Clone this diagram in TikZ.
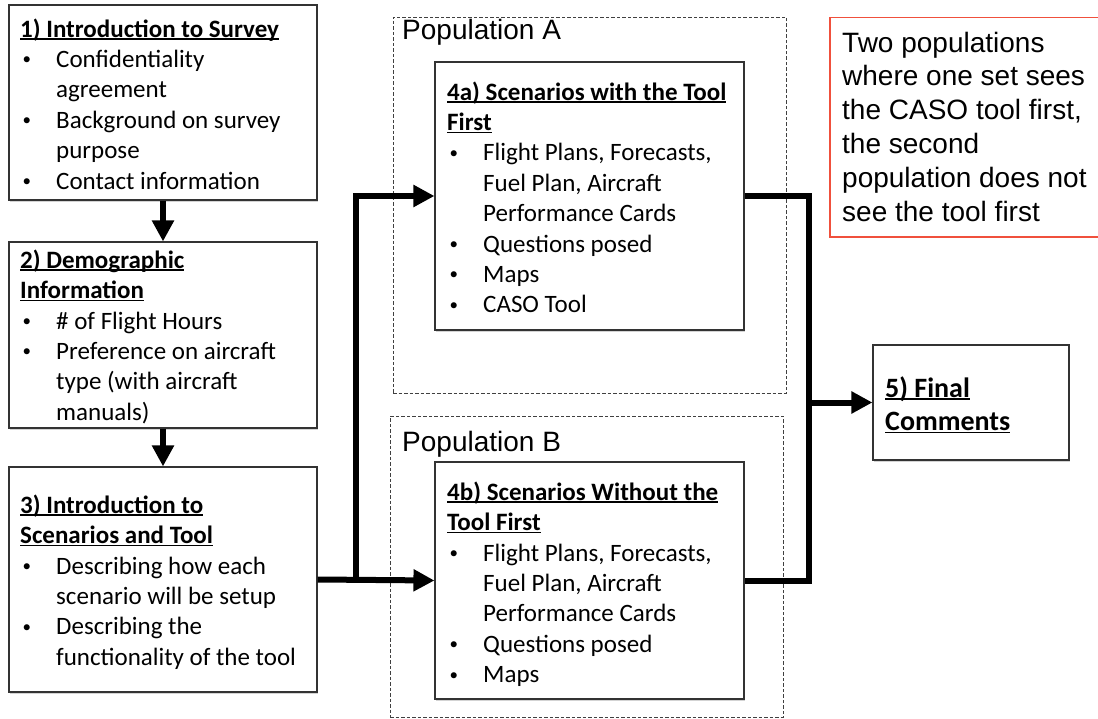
\documentclass[tikz,border=0pt]{standalone}
\usepackage{fontspec}
\setmainfont{Carlito}
\newfontfamily\notefont{Liberation Sans}
\usetikzlibrary{arrows.meta,shadows}
\definecolor{notered}{RGB}{240,80,60}
% bold underlined heading line
\newcommand\hdr[1]{\setbox0=\hbox{\bfseries#1}\rlap{\rule[-2.6pt]{\wd0}{1.5pt}}\box0}
% bullet item and continuation indent
\newcommand\itm{\makebox[36pt][l]{\hspace*{2.5pt}\raisebox{2.6pt}{\fontsize{17}{17}\selectfont\textbullet}}}
\newcommand\contline{\hspace*{36pt}}
\begin{document}
\begin{tikzpicture}[x=1pt,y=-1pt,
  stage/.style={draw=black!80, line width=1.1pt, fill=white, inner sep=0pt,
    drop shadow={shadow xshift=1.2pt,shadow yshift=-1.6pt,opacity=0.35}},
  body/.style={anchor=north west, inner sep=0pt, align=left,
    font=\fontsize{25}{30.4}\selectfont},
  group/.style={draw=black!75, line width=0.8pt, dash pattern=on 3.5pt off 2pt, inner sep=0pt},
  grouplabel/.style={anchor=base west, inner sep=0pt, font=\notefont\fontsize{28}{33.8}\selectfont},
  flow/.style={line width=6pt, black, line join=miter},
  head/.style={-{Triangle[length=21pt,width=21pt]}},
]
\useasboundingbox (0,0) rectangle (1098,719);

% population groups
\node[group, minimum width=393pt, minimum height=376pt] (popA) at (589.5,205) {};
\node[group, minimum width=393pt, minimum height=301pt] (popB) at (586.5,566.5) {};
\node[grouplabel] (labA) at (402,40) {Population A};
\node[grouplabel] (labB) at (402,451) {Population B};

% stage boxes
\node[stage, minimum width=308pt, minimum height=195pt] (b1) at (163,102.5) {};
\node[stage, minimum width=308pt, minimum height=186pt] (b2) at (163,335) {};
\node[stage, minimum width=308pt, minimum height=225pt] (b3) at (163,579.5) {};
\node[stage, minimum width=309pt, minimum height=268pt] (b4a) at (589.5,196) {};
\node[stage, minimum width=309pt, minimum height=237pt] (b4b) at (589.5,580.5) {};
\node[stage, minimum width=196pt, minimum height=115pt] (b5) at (971,402.5) {};

% stage texts
\node[body] (t1) at (20,15.72) {\strut\hdr{1) Introduction to Survey}\\
  \itm Confidentiality\\
  \contline agreement\\
  \itm Background on survey\\
  \contline purpose\\
  \itm Contact information};
\node[body] (t2) at (20,246.72) {\strut\hdr{2) Demographic}\\
  \hdr{Information}\\
  \itm \# of Flight Hours\\
  \itm Preference on aircraft\\
  \contline type (with aircraft\\
  \contline manuals)};
\node[body] (t3) at (20,491.72) {\strut\hdr{3) Introduction to}\\
  \hdr{Scenarios and Tool}\\
  \itm Describing how each\\
  \contline scenario will be setup\\
  \itm Describing the\\
  \contline functionality of the tool};
\node[body] (t4a) at (447,78.72) {\strut\hdr{4a) Scenarios with the Tool}\\
  \hdr{First}\\
  \itm Flight Plans, Forecasts,\\
  \contline Fuel Plan, Aircraft\\
  \contline Performance Cards\\
  \itm Questions posed\\
  \itm Maps\\
  \itm CASO Tool};
\node[body] (t4b) at (447,478.72) {\strut\hdr{4b) Scenarios Without the}\\
  \hdr{Tool First}\\
  \itm Flight Plans, Forecasts,\\
  \contline Fuel Plan, Aircraft\\
  \contline Performance Cards\\
  \itm Questions posed\\
  \itm Maps};
\node[body, font=\fontsize{28}{33.6}\selectfont] (t5) at (885,373.48)
  {\strut\hdr{5) Final}\\ \hdr{Comments}};

% side note, open towards the right edge
\node[inner sep=0pt, minimum width=268pt, minimum height=219pt] (note) at (964,127.5) {};
\draw[draw=notered, line width=1.4pt] (note.north east) -- (note.north west)
  -- (note.south west) -- (note.south east);
\node[body, font=\notefont\fontsize{28}{33.8}\selectfont] (notetext) at (842,28.34)
  {\strut Two populations\\ where one set sees\\ the CASO tool first,\\ the second\\ population does not\\ see the tool first};

% flow connectors
\draw[flow,head] (b1.south) -- (b2.north);
\draw[flow,head] (b2.south) -- (b3.north);
\path (b3.east) ++(38,0) coordinate (split);
\draw[flow,head] (b3.east) -- (b4b.west);
\draw[flow,head] (split) |- (b4a.west);
\path (b4a.east) ++(64,0) coordinate (bend);
\draw[flow] (b4a.east) -| (bend |- b4b.east) -- (b4b.east);
\coordinate (merge) at (bend |- b5.west);
\draw[flow,head] (merge) -- (b5.west);
\end{tikzpicture}
\end{document}
